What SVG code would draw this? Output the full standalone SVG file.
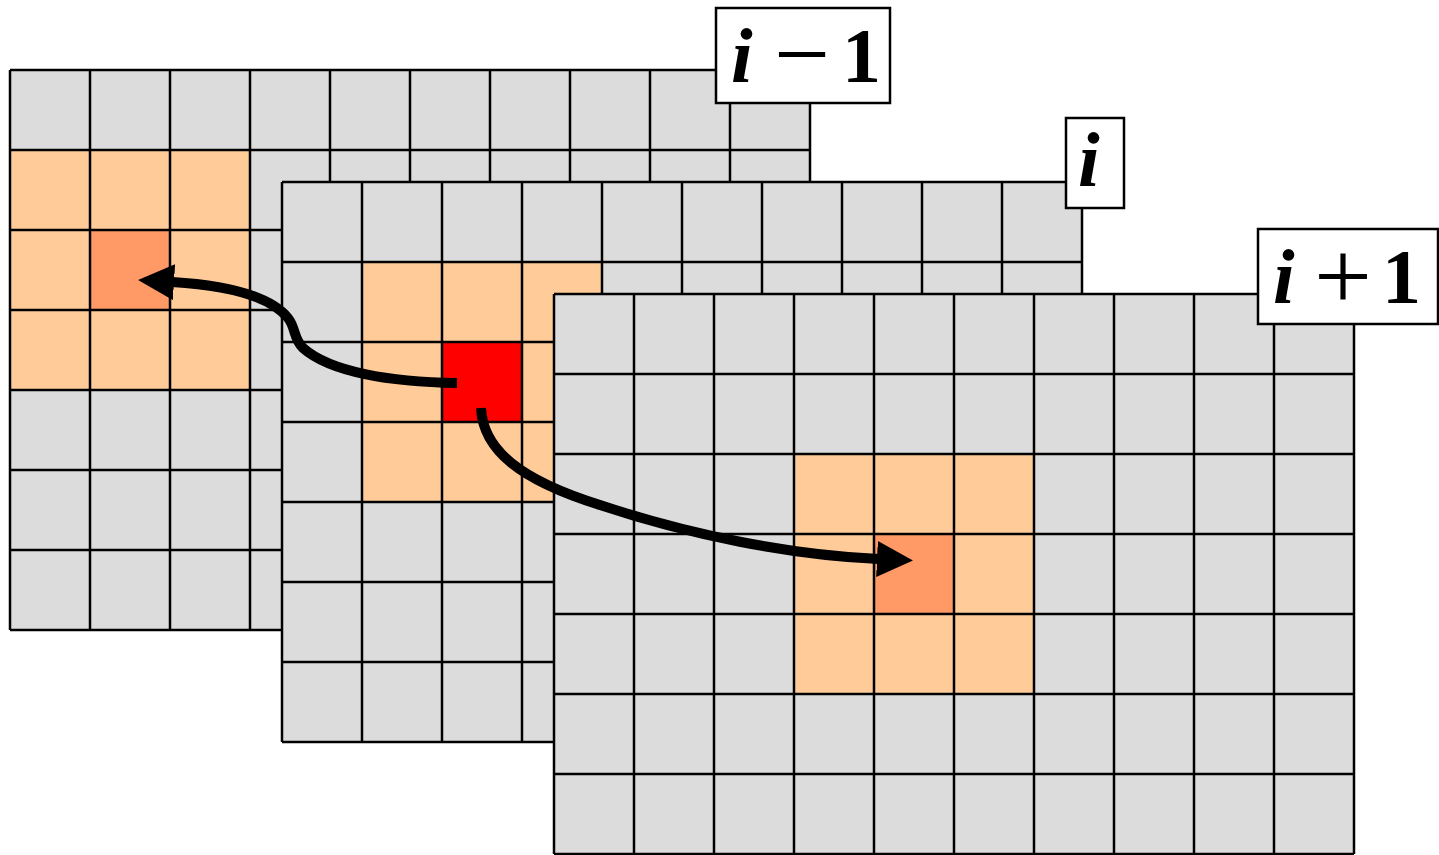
<svg xmlns="http://www.w3.org/2000/svg" xmlns:xlink="http://www.w3.org/1999/xlink" width="1439" height="855" viewBox="0 0 1439 855">
<style>
.bg{fill:#dcdcdc}
.or{fill:#ffcc99}
.dk{fill:#ff9966}
.rd{fill:#ff0000}
.gl{fill:none;stroke:#000;stroke-width:2.5}
.lb{fill:#fff;stroke:#000;stroke-width:2.5}
.tx{font-family:'Liberation Serif',serif;font-size:78px;font-weight:bold;fill:#000}
.it{font-style:italic}
.op{font-family:'Liberation Serif',serif;font-size:100px;fill:#000}
.ar{fill:none;stroke:#000;stroke-width:10}
</style>
<defs>
<path id="lines" class="gl" d="M0 0V560M80 0V560M160 0V560M240 0V560M320 0V560M400 0V560M480 0V560M560 0V560M640 0V560M720 0V560M800 0V560M0 0H800M0 80H800M0 160H800M0 240H800M0 320H800M0 400H800M0 480H800M0 560H800"/>
<marker id="head" markerUnits="userSpaceOnUse" markerWidth="38" markerHeight="38" viewBox="0 0 38 38" refX="2" refY="18" orient="auto">
<path d="M0 0L36 18L0 36z" fill="#000"/>
</marker>
</defs>
<g id="layer-prev" transform="translate(10,70)">
<rect class="bg" x="0" y="0" width="800" height="560"/>
<rect class="or" x="0" y="80" width="240" height="240"/>
<rect class="dk" x="80" y="160" width="80" height="80"/>
<use xlink:href="#lines"/>
</g>
<g id="label-prev">
<rect class="lb" x="716" y="8" width="174" height="95"/>
<text class="tx" y="82"><tspan class="it" x="731">i</tspan><tspan x="842">1</tspan></text>
<text class="op" x="774" y="88" textLength="56" lengthAdjust="spacingAndGlyphs">−</text>
</g>
<g id="layer-cur" transform="translate(282,182)">
<rect class="bg" x="0" y="0" width="800" height="560"/>
<rect class="or" x="80" y="80" width="240" height="240"/>
<rect class="rd" x="160" y="160" width="80" height="80"/>
<use xlink:href="#lines"/>
</g>
<g id="label-cur">
<rect class="lb" x="1066" y="118" width="58" height="90"/>
<text class="tx" y="186"><tspan class="it" x="1078">i</tspan></text>
</g>
<g id="layer-next" transform="translate(554,294)">
<rect class="bg" x="0" y="0" width="800" height="560"/>
<rect class="or" x="240" y="160" width="240" height="240"/>
<rect class="dk" x="320" y="240" width="80" height="80"/>
<use xlink:href="#lines"/>
</g>
<g id="label-next">
<rect class="lb" x="1258" y="229" width="180" height="95"/>
<text class="tx" y="303"><tspan class="it" x="1273">i</tspan><tspan x="1382">1</tspan></text>
<text class="op" x="1314" y="310" textLength="58" lengthAdjust="spacingAndGlyphs">+</text>
</g>
<g id="connectors">
<path class="ar" marker-end="url(#head)" d="M457 383C390 382 330 372 303 348C293 338 296 328 288 318C265 290 205 284 172 282"/>
<path class="ar" marker-end="url(#head)" d="M481 408C483 450 520 480 600 505C690 535 790 555 879 559"/>
</g>
</svg>
